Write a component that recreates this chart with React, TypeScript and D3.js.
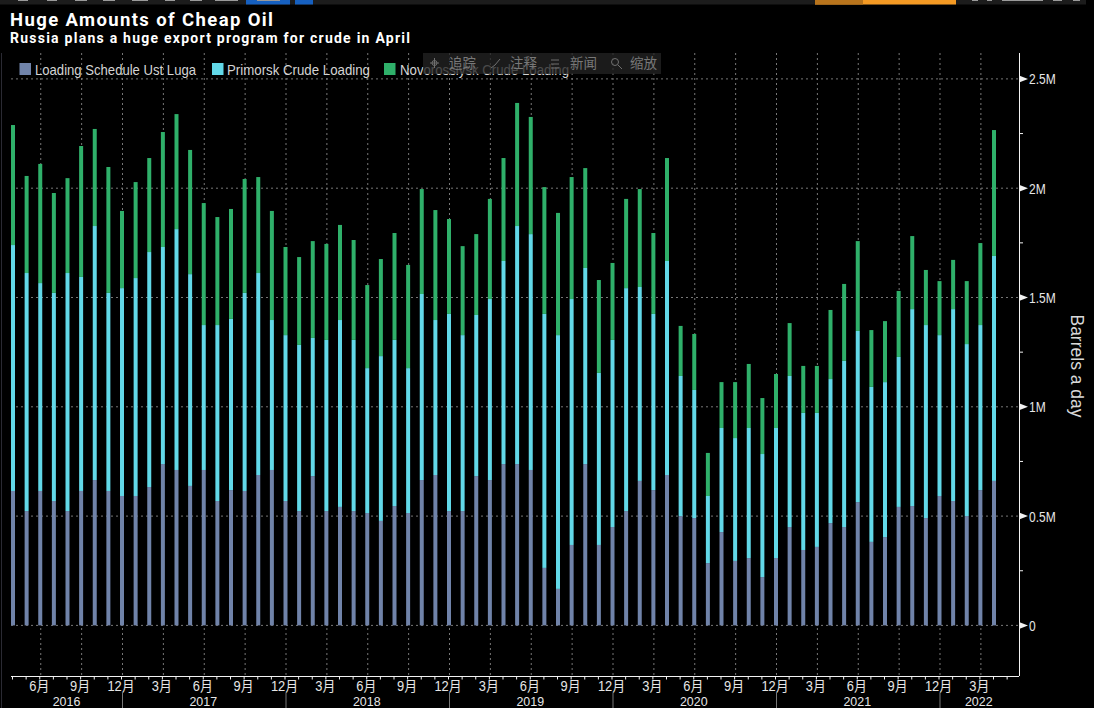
import React, { useEffect, useRef } from 'react';
import * as d3 from 'd3';

const WIDTH = 1094;
const HEIGHT = 708;

// monthly loadings in million barrels a day, Apr 2016 to Apr 2022
const ustLuga = [
  0.615, 0.523, 0.615, 0.569, 0.523, 0.615, 0.665, 0.615, 0.592, 0.592, 0.633, 0.738, 0.711, 0.638, 0.711, 0.569,
  0.619, 0.615, 0.688, 0.711, 0.569, 0.523, 0.683, 0.523, 0.542, 0.523, 0.514, 0.478, 0.546, 0.514, 0.665, 0.688,
  0.523, 0.523, 0.683, 0.665, 0.738, 0.738, 0.711, 0.263, 0.167, 0.368, 0.738, 0.368, 0.45, 0.523, 0.661, 0.619,
  0.688, 0.5, 0.491, 0.285, 0.427, 0.295, 0.308, 0.221, 0.308, 0.45, 0.345, 0.359, 0.468, 0.45, 0.564, 0.382,
  0.404, 0.542, 0.546, 0.491, 0.592, 0.569, 0.5, 0.619, 0.661,
];
const primorsk = [
  1.125, 1.089, 0.951, 0.952, 1.089, 0.979, 1.162, 0.906, 0.951, 0.997, 1.075, 0.993, 1.102, 0.969, 0.663, 0.805,
  0.783, 0.906, 0.924, 0.686, 0.759, 0.76, 0.632, 0.783, 0.855, 0.783, 0.663, 0.754, 0.76, 0.663, 0.851, 0.709,
  0.902, 0.805, 0.737, 0.828, 0.929, 1.089, 1.079, 1.162, 1.161, 1.125, 0.897, 0.787, 0.856, 1.02, 0.887, 0.806,
  0.979, 0.641, 0.586, 0.307, 0.476, 0.562, 0.595, 0.563, 0.595, 0.691, 0.627, 0.613, 0.659, 0.76, 0.783, 0.709,
  0.709, 0.686, 0.901, 0.883, 0.736, 0.878, 0.787, 0.755, 1.029,
];
const novorossiysk = [
  0.549, 0.444, 0.545, 0.457, 0.434, 0.599, 0.444, 0.576, 0.353, 0.439, 0.43, 0.526, 0.526, 0.568, 0.558, 0.494,
  0.503, 0.521, 0.439, 0.499, 0.403, 0.402, 0.443, 0.439, 0.435, 0.457, 0.38, 0.444, 0.489, 0.472, 0.48, 0.503,
  0.434, 0.407, 0.37, 0.458, 0.471, 0.563, 0.536, 0.58, 0.559, 0.558, 0.457, 0.425, 0.352, 0.408, 0.448, 0.37,
  0.471, 0.229, 0.256, 0.197, 0.21, 0.256, 0.293, 0.256, 0.247, 0.242, 0.215, 0.215, 0.316, 0.352, 0.411, 0.26,
  0.279, 0.302, 0.334, 0.252, 0.247, 0.225, 0.288, 0.375, 0.576,
];
const seriesNames = ['Loading Schedule Ust Luga', 'Primorsk Crude Loading', 'Novorossiysk Crude Loading'];
const seriesColors = ['#7083a9', '#62d8e8', '#2fb06a'];
const yTicks = [0, 0.5, 1, 1.5, 2, 2.5];
const minorTicks = [0.25, 0.75, 1.25, 1.75, 2.25];
const years = ['2016', '2017', '2018', '2019', '2020', '2021', '2022'];
const toolbarLabels = ['追踪', '注释', '新闻', '缩放'];

const START_YEAR = 2016;
const START_MONTH = 3; // April, zero based
const months = ustLuga.map((_, i) => new Date(START_YEAR, START_MONTH + i, 1));

// no narrow font installed, so squeeze the glyphs of a selection horizontally
const squeeze = (sel: any, factor: number) => {
  sel.each(function (this: any) {
    this.setAttribute('textLength', this.getComputedTextLength() * factor);
    this.setAttribute('lengthAdjust', 'spacingAndGlyphs');
  });
};

const App = () => {
  const svgRef = useRef<SVGSVGElement>(null);

  useEffect(() => {
    const svg = d3.select(svgRef.current);
    svg.selectAll('*').remove();

    const plot = { left: 11, right: 1019, top: 53, bottom: 676 };
    const boldFont = 'Roboto, "DejaVu Sans", sans-serif';
    const labelFont = '"Liberation Sans", sans-serif';
    const cjkFont = '"Liberation Sans", "Noto Sans CJK SC", sans-serif';

    const x = d3.scaleLinear().domain([0, 72]).range([13, 994]);
    const y = d3.scaleLinear().domain([0, 2.5]).range([625.4, 78.9]);
    const barWidth = 4;

    svg.append('rect').attr('width', WIDTH).attr('height', HEIGHT).attr('fill', '#000');

    // cut off terminal toolbar on the top edge
    svg.append('rect').attr('width', 1086).attr('height', 4.5).attr('fill', '#1c1c1c');
    svg.append('rect').attr('x', 246).attr('width', 44).attr('height', 4.5).attr('fill', '#1660c0');
    svg.append('rect').attr('x', 295).attr('width', 18).attr('height', 4.5).attr('fill', '#1660c0');
    svg.append('rect').attr('x', 815).attr('width', 141).attr('height', 4.5).attr('fill', '#f59a23');
    svg.append('rect').attr('x', 815).attr('width', 48).attr('height', 4.5).attr('fill', '#b8741c');
    const clipped = [[18, 10], [47, 10], [75, 12], [103, 12], [132, 16], [165, 10], [190, 12], [215, 23], [257, 23], [972, 6], [987, 5], [1002, 41], [1053, 9], [1073, 7]];
    svg.append('g').selectAll('rect').data(clipped).enter().append('rect')
      .attr('x', d => d[0]).attr('width', d => d[1]).attr('height', 1).attr('fill', '#9a9a9a');

    // title
    svg.append('text').attr('x', 10).attr('y', 26).attr('fill', '#fff')
      .attr('font-family', boldFont).attr('font-weight', 700).attr('font-size', 18.5)
      .attr('textLength', 263).attr('lengthAdjust', 'spacing')
      .text('Huge Amounts of Cheap Oil');
    svg.append('text').attr('x', 10).attr('y', 43).attr('fill', '#fff')
      .attr('font-family', boldFont).attr('font-weight', 700).attr('font-size', 14)
      .attr('textLength', 400).attr('lengthAdjust', 'spacing')
      .text('Russia plans a huge export program for crude in April');

    // vertical grid at every third month
    const gridIdx = months.map((_, i) => i).filter(i => months[i].getMonth() % 3 === 2);
    svg.append('g').selectAll('line').data(gridIdx).enter().append('line')
      .attr('x1', d => x(d) + 0.5).attr('x2', d => x(d) + 0.5)
      .attr('y1', plot.top).attr('y2', plot.bottom)
      .attr('stroke', '#777').attr('stroke-width', 1).attr('stroke-dasharray', '2,3');

    // horizontal grid
    svg.append('g').selectAll('line').data(yTicks).enter().append('line')
      .attr('x1', plot.left).attr('x2', plot.right)
      .attr('y1', d => y(d)).attr('y2', d => y(d))
      .attr('stroke', '#777').attr('stroke-width', 1).attr('stroke-dasharray', '2,3');

    // stacked bars
    const rows = months.map((_, i) => ({ i, a: ustLuga[i], b: primorsk[i], c: novorossiysk[i] }));
    const stacked = d3.stack<any>().keys(['a', 'b', 'c'])(rows);
    svg.append('g').selectAll('g').data(stacked).enter().append('g')
      .attr('fill', (_, i) => seriesColors[i])
      .selectAll('rect').data(d => d).enter().append('rect')
      .attr('x', d => x(d.data.i) - barWidth / 2)
      .attr('width', barWidth)
      .attr('y', d => y(d[1]))
      .attr('height', d => y(d[0]) - y(d[1]));

    // faint left edge
    svg.append('line').attr('x1', 1.5).attr('x2', 1.5).attr('y1', plot.top).attr('y2', HEIGHT)
      .attr('stroke', '#2a2a33');

    // legend
    const legend = svg.append('g').attr('font-family', labelFont).attr('font-size', 15).attr('fill', '#d4d4d4');
    [19.5, 212, 384].forEach((lx, i) => {
      legend.append('rect').attr('x', lx).attr('y', 63).attr('width', 11.5).attr('height', 12).attr('fill', seriesColors[i]);
    });
    [[35, 161], [227, 143], [400, 169]].forEach(([lx, len], i) => {
      legend.append('text').attr('x', lx).attr('y', 75)
        .attr('textLength', len).attr('lengthAdjust', 'spacingAndGlyphs')
        .text(seriesNames[i]);
    });

    // hover toolbar sits on top of the legend
    svg.append('rect').attr('x', 423).attr('y', 53).attr('width', 238).attr('height', 21)
      .attr('fill', '#222').attr('fill-opacity', 0.78);
    const toolbar = svg.append('g').attr('font-family', '"Noto Sans CJK SC", sans-serif').attr('font-size', 13.5).attr('fill', '#787878');
    [449, 510, 570, 630].forEach((lx, i) => {
      toolbar.append('text').attr('x', lx).attr('y', 68).text(toolbarLabels[i]);
    });
    const icons = svg.append('g').attr('stroke', '#6f6f6f').attr('fill', 'none').attr('stroke-width', 1);
    icons.append('path').attr('d', 'M430 63h9M434.5 58v10');
    icons.append('circle').attr('cx', 434.5).attr('cy', 63).attr('r', 2.5);
    icons.append('path').attr('d', 'M491 68l4-3 5-6');
    icons.append('path').attr('d', 'M551 60h8M551 64h8M551 68h8');
    icons.append('circle').attr('cx', 615).attr('cy', 62).attr('r', 3.5);
    icons.append('path').attr('d', 'M618 65l4 4');

    // right axis
    const axisColor = '#f2f2f2';
    svg.append('line').attr('x1', plot.right + 0.5).attr('x2', plot.right + 0.5).attr('y1', plot.top).attr('y2', plot.bottom)
      .attr('stroke', axisColor);
    svg.append('g').selectAll('line').data(minorTicks).enter().append('line')
      .attr('x1', plot.right).attr('x2', plot.right + 4)
      .attr('y1', d => y(d)).attr('y2', d => y(d)).attr('stroke', axisColor);
    svg.append('g').selectAll('path').data(yTicks).enter().append('path')
      .attr('d', d => `M${plot.right} ${y(d) - 3.5}L${plot.right + 9} ${y(d)}L${plot.right} ${y(d) + 3.5}Z`)
      .attr('fill', axisColor);
    svg.append('g').selectAll('text').data(yTicks).enter().append('text')
      .attr('x', 1029).attr('y', d => y(d) + 5.5)
      .attr('fill', '#e6e6e6').attr('font-family', labelFont).attr('font-size', 15)
      .text(d => (d === 0 ? '0' : `${d}M`))
      .call(squeeze, 0.8);
    svg.append('text')
      .attr('transform', 'translate(1070.5,366) rotate(90)')
      .attr('text-anchor', 'middle').attr('fill', '#d8d8d8')
      .attr('font-family', labelFont).attr('font-size', 17.5)
      .text('Barrels a day');

    // bottom axis
    svg.append('line').attr('x1', plot.left).attr('x2', plot.right).attr('y1', plot.bottom + 0.5).attr('y2', plot.bottom + 0.5)
      .attr('stroke', axisColor);
    const tickIdx = d3.range(0, 74);
    svg.append('g').selectAll('line').data(tickIdx).enter().append('line')
      .attr('x1', d => x(d) - 0.5).attr('x2', d => x(d) - 0.5)
      .attr('y1', plot.bottom).attr('y2', plot.bottom + 3.5)
      .attr('stroke', axisColor);
    svg.append('g').selectAll('text').data(gridIdx).enter().append('text')
      .attr('x', d => x(d) - 1).attr('y', 690.5)
      .attr('text-anchor', 'middle').attr('fill', '#e6e6e6')
      .attr('font-family', cjkFont).attr('font-size', 14)
      .text(d => `${months[d].getMonth() + 1}月`)
      .call(squeeze, 0.92);

    // year band, separators sit on each December
    const decIdx = months.map((_, i) => i).filter(i => months[i].getMonth() === 11);
    svg.append('g').selectAll('line').data(decIdx).enter().append('line')
      .attr('x1', d => x(d) + 0.5).attr('x2', d => x(d) + 0.5)
      .attr('y1', 693).attr('y2', HEIGHT)
      .attr('stroke', '#777');
    const edges = [12, ...decIdx.map(d => x(d)), 1019];
    svg.append('g').selectAll('text').data(years).enter().append('text')
      .attr('x', (_, i) => (edges[i] + edges[i + 1]) / 2 - 0.5)
      .attr('y', 705.5)
      .attr('text-anchor', 'middle').attr('fill', '#e6e6e6')
      .attr('font-family', labelFont).attr('font-size', 13.5)
      .text(d => d)
      .call(squeeze, 0.92);
  }, []);

  return <svg ref={svgRef} width={WIDTH} height={HEIGHT} style={{ position: 'absolute', left: 0, top: 0 }} />;
};

export default App;
